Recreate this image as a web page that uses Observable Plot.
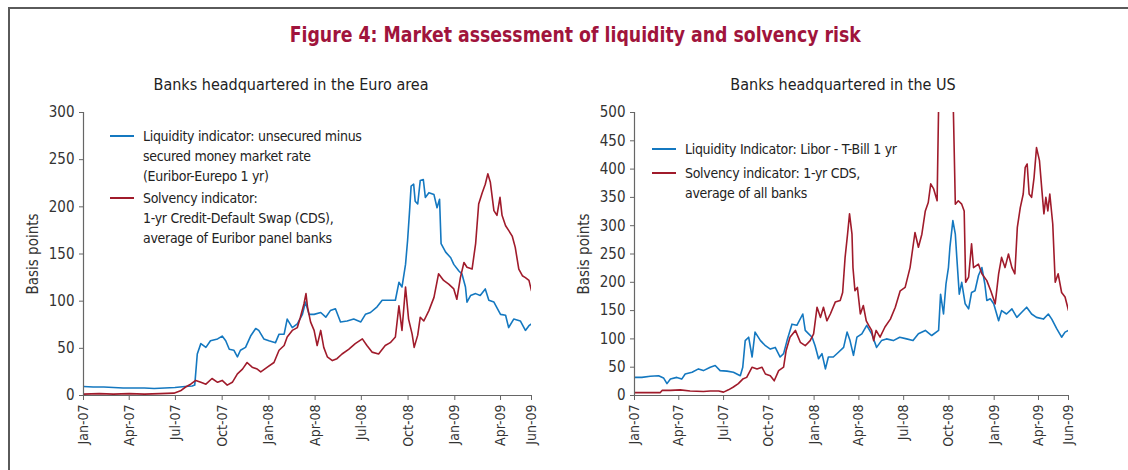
<!DOCTYPE html>
<html>
<head>
<meta charset="utf-8">
<script src="https://cdn.jsdelivr.net/npm/d3@7"></script>
<script src="https://cdn.jsdelivr.net/npm/@observablehq/plot@0.6"></script>
<style>
  html, body { margin: 0; padding: 0; background: #fff; overflow: hidden; }
  #page { position: relative; width: 1128px; height: 470px; overflow: hidden;
    font-family: "Liberation Sans Narrow", "DejaVu Sans Condensed", "Roboto Condensed", Roboto, sans-serif; color: #222; }
  #frame { position: absolute; left: 8px; top: 7px; width: 1300px; height: 700px; border: 2px solid #5a5a5a; }
  #title { position: absolute; left: 0; width: 1150px; top: 22px; text-align: center; font-size: 22px; font-weight: bold; color: #a0143c; transform: scaleX(0.875); transform-origin: 577px 0; }
  .sub { position: absolute; top: 75px; text-align: center; font-size: 16px; color: #222; }
  .chart { position: absolute; top: 100px; }
  .legend { position: absolute; font-size: 14px; line-height: 20px; color: #222; letter-spacing: -0.3px; }
  .legend .row { position: relative; padding-left: 33px; white-space: nowrap; }
  .legend .sw { position: absolute; left: 0; top: 9px; width: 24px; height: 2px; }
  svg text { font-family: "Liberation Sans Narrow", "DejaVu Sans Condensed", "Roboto Condensed", Roboto, sans-serif; }
</style>
</head>
<body>
<div id="page">
  <div id="frame"></div>
  <div id="title">Figure 4: Market assessment of liquidity and solvency risk</div>
  <div class="sub" style="left:141px;width:300px;">Banks headquartered in the Euro area</div>
  <div class="sub" style="left:693px;width:300px;">Banks headquartered in the US</div>
  <div id="left" class="chart" style="left:0px;"></div>
  <div id="right" class="chart" style="left:560px;"></div>
  <div class="legend" style="left:110px;top:126px;">
    <div class="row"><span class="sw" style="background:#1478c0"></span>Liquidity indicator: unsecured minus<br>secured money market rate<br>(Euribor-Eurepo 1 yr)</div>
    <div class="row" style="margin-top:2px"><span class="sw" style="background:#a01b2b"></span>Solvency indicator:<br>1-yr Credit-Default Swap (CDS),<br>average of Euribor panel banks</div>
  </div>
  <div class="legend" style="left:652px;top:139px;">
    <div class="row"><span class="sw" style="background:#1478c0"></span>Liquidity Indicator: Libor - T-Bill 1 yr</div>
    <div class="row" style="margin-top:4px"><span class="sw" style="background:#a01b2b"></span>Solvency indicator: 1-yr CDS,<br>average of all banks</div>
  </div>
</div>
<script>
// ---- data (basis points) ----
const xTickDates = ["2007-01-01","2007-04-01","2007-07-01","2007-10-01","2008-01-01","2008-04-01","2008-07-01","2008-10-01","2009-01-01","2009-04-01","2009-06-01"];
const xDomain = ["2007-01-01","2009-06-01"];
const euroYTicks = [0,50,100,150,200,250,300];
const usYTicks = [0,50,100,150,200,250,300,350,400,450,500];
const seriesNames = ["Liquidity", "Solvency"];
const seriesColors = ["#1478c0", "#a01b2b"];

// Euro area: liquidity indicator (Euribor-Eurepo 1 yr)
const euroLiquidity = [
 ["2007-01-01",9.5],["2007-01-20",9],["2007-02-10",9],["2007-03-01",8.5],["2007-03-20",8],["2007-04-10",8],
 ["2007-05-01",8],["2007-05-20",7.5],["2007-06-10",8],["2007-06-30",8.5],["2007-07-20",9.5],["2007-08-03",10],
 ["2007-08-08",11],["2007-08-13",44],["2007-08-20",55],["2007-08-30",51],["2007-09-08",58],["2007-09-22",60],
 ["2007-10-01",63],["2007-10-08",58],["2007-10-15",49],["2007-10-24",48],["2007-10-31",41],["2007-11-06",48],
 ["2007-11-16",51],["2007-11-26",63],["2007-12-06",71],["2007-12-12",69],["2007-12-22",60],["2008-01-01",58],
 ["2008-01-14",56],["2008-01-21",65],["2008-01-31",65],["2008-02-06",81],["2008-02-16",72],["2008-02-26",76],
 ["2008-03-07",86],["2008-03-13",99],["2008-03-20",86],["2008-03-30",86],["2008-04-12",88],["2008-04-22",83],
 ["2008-05-01",90],["2008-05-11",92],["2008-05-21",78],["2008-06-03",79],["2008-06-16",81],["2008-06-30",78],
 ["2008-07-09",86],["2008-07-19",88],["2008-08-01",94],["2008-08-11",101],["2008-08-21",101],["2008-09-06",101],
 ["2008-09-13",120],["2008-09-19",115],["2008-09-26",139],["2008-09-30",164],["2008-10-04",196],["2008-10-07",222],
 ["2008-10-12",224],["2008-10-15",206],["2008-10-20",203],["2008-10-25",228],["2008-10-31",229],["2008-11-04",210],
 ["2008-11-11",215],["2008-11-21",213],["2008-11-27",199],["2008-12-02",208],["2008-12-05",161],["2008-12-14",152],
 ["2008-12-24",146],["2008-12-30",139],["2009-01-09",132],["2009-01-15",129],["2009-01-22",115],["2009-01-25",99],
 ["2009-02-01",106],["2009-02-11",108],["2009-02-20",106],["2009-03-02",113],["2009-03-09",101],["2009-03-19",99],
 ["2009-04-01",86],["2009-04-11",85],["2009-04-17",72],["2009-04-27",81],["2009-05-10",79],["2009-05-20",69],
 ["2009-05-27",74],["2009-06-01",76]
];
// Euro area: solvency indicator (1-yr CDS, Euribor panel banks)
const euroSolvency = [
 ["2007-01-01",1.5],["2007-02-01",2],["2007-03-01",1.5],["2007-04-01",2],["2007-05-01",1.5],["2007-06-01",2],
 ["2007-06-28",2.5],["2007-07-11",5],["2007-07-21",9],["2007-07-31",12],["2007-08-10",16],["2007-08-20",14],
 ["2007-08-30",12],["2007-09-11",18],["2007-09-22",14],["2007-10-01",16],["2007-10-11",11],["2007-10-21",14],
 ["2007-10-31",23],["2007-11-10",28],["2007-11-19",35],["2007-11-29",30],["2007-12-09",28],["2007-12-16",25],
 ["2007-12-29",30],["2008-01-11",35],["2008-01-21",48],["2008-01-31",53],["2008-02-06",62],["2008-02-16",69],
 ["2008-02-26",72],["2008-03-03",83],["2008-03-10",97],["2008-03-14",108],["2008-03-17",94],["2008-03-23",78],
 ["2008-03-30",69],["2008-04-05",53],["2008-04-12",69],["2008-04-18",51],["2008-04-25",41],["2008-05-05",37],
 ["2008-05-14",39],["2008-05-24",44],["2008-06-06",49],["2008-06-19",55],["2008-07-03",60],["2008-07-12",53],
 ["2008-07-22",46],["2008-08-04",44],["2008-08-17",53],["2008-08-27",56],["2008-09-06",62],["2008-09-13",95],
 ["2008-09-19",69],["2008-09-26",115],["2008-10-02",81],["2008-10-09",65],["2008-10-13",51],["2008-10-20",64],
 ["2008-10-25",83],["2008-11-01",79],["2008-11-11",90],["2008-11-21",104],["2008-11-30",129],["2008-12-10",122],
 ["2008-12-20",118],["2008-12-30",113],["2009-01-05",102],["2009-01-12",125],["2009-01-19",141],["2009-01-25",136],
 ["2009-02-04",134],["2009-02-11",161],["2009-02-17",203],["2009-02-24",215],["2009-03-02",224],["2009-03-07",235],
 ["2009-03-12",226],["2009-03-19",196],["2009-03-25",191],["2009-03-31",210],["2009-04-04",191],["2009-04-11",180],
 ["2009-04-17",175],["2009-04-24",169],["2009-04-30",157],["2009-05-07",134],["2009-05-14",127],["2009-05-20",125],
 ["2009-05-27",122],["2009-06-01",111]
];
// US: liquidity indicator (Libor - T-Bill 1 yr)
const usLiquidity = [
 ["2007-01-01",32],["2007-01-16",32],["2007-02-02",34],["2007-02-19",35],["2007-03-01",31],["2007-03-08",21],
 ["2007-03-15",29],["2007-03-28",32],["2007-04-07",29],["2007-04-14",38],["2007-04-28",41],["2007-05-11",47],
 ["2007-05-21",44],["2007-06-04",50],["2007-06-14",53],["2007-06-24",44],["2007-07-08",43],["2007-07-21",41],
 ["2007-08-04",35],["2007-08-09",50],["2007-08-14",97],["2007-08-21",103],["2007-08-28",68],["2007-09-03",112],
 ["2007-09-14",97],["2007-09-24",88],["2007-10-04",82],["2007-10-14",85],["2007-10-24",68],["2007-10-31",74],
 ["2007-11-07",97],["2007-11-17",126],["2007-11-27",124],["2007-12-09",144],["2007-12-14",115],["2007-12-21",109],
 ["2007-12-28",103],["2008-01-03",88],["2008-01-10",65],["2008-01-17",74],["2008-01-24",47],["2008-01-30",68],
 ["2008-02-09",68],["2008-02-19",76],["2008-03-01",85],["2008-03-08",112],["2008-03-14",97],["2008-03-21",71],
 ["2008-03-28",103],["2008-04-07",109],["2008-04-17",124],["2008-04-27",109],["2008-05-07",85],["2008-05-17",97],
 ["2008-05-27",100],["2008-06-10",97],["2008-06-23",103],["2008-07-07",100],["2008-07-20",97],["2008-07-31",109],
 ["2008-08-14",115],["2008-08-27",106],["2008-09-10",115],["2008-09-14",179],["2008-09-20",144],["2008-09-25",197],
 ["2008-09-30",226],["2008-10-03",262],["2008-10-09",309],["2008-10-14",285],["2008-10-17",244],["2008-10-22",179],
 ["2008-10-27",200],["2008-11-03",162],["2008-11-10",153],["2008-11-16",182],["2008-11-23",185],["2008-11-30",212],
 ["2008-12-07",226],["2008-12-13",197],["2008-12-17",168],["2008-12-24",171],["2008-12-31",162],["2009-01-10",132],
 ["2009-01-16",150],["2009-01-26",144],["2009-02-06",153],["2009-02-16",138],["2009-02-26",147],["2009-03-08",156],
 ["2009-03-18",144],["2009-03-28",138],["2009-04-11",135],["2009-04-21",144],["2009-04-28",135],["2009-05-08",118],
 ["2009-05-18",103],["2009-05-25",112],["2009-06-01",115]
];
// US: solvency indicator (1-yr CDS, average of all banks)
const usSolvency = [
 ["2007-01-01",5],["2007-02-22",5],["2007-02-26",9],["2007-03-15",9],["2007-04-04",10],["2007-04-24",8],
 ["2007-05-21",7],["2007-06-04",8],["2007-06-21",8],["2007-07-01",6],["2007-07-11",10],["2007-07-21",15],
 ["2007-07-31",21],["2007-08-09",29],["2007-08-17",32],["2007-08-28",50],["2007-09-07",47],["2007-09-17",50],
 ["2007-09-24",38],["2007-10-04",35],["2007-10-12",26],["2007-10-21",44],["2007-10-31",50],["2007-11-05",79],
 ["2007-11-13",103],["2007-11-24",115],["2007-12-04",94],["2007-12-14",88],["2007-12-24",97],["2007-12-31",109],
 ["2008-01-07",156],["2008-01-14",138],["2008-01-20",156],["2008-01-27",132],["2008-02-03",144],["2008-02-13",165],
 ["2008-02-23",168],["2008-02-28",182],["2008-03-04",244],["2008-03-09",285],["2008-03-13",321],["2008-03-18",285],
 ["2008-03-20",226],["2008-03-24",185],["2008-03-29",191],["2008-04-04",144],["2008-04-10",159],["2008-04-16",132],
 ["2008-04-21",124],["2008-04-27",115],["2008-05-01",97],["2008-05-06",115],["2008-05-14",103],["2008-05-24",121],
 ["2008-06-04",135],["2008-06-14",156],["2008-06-24",185],["2008-07-04",191],["2008-07-14",226],["2008-07-24",288],
 ["2008-07-31",262],["2008-08-07",285],["2008-08-14",326],["2008-08-20",341],["2008-08-25",374],["2008-08-31",365],
 ["2008-09-07",344],["2008-09-10",510],["2008-09-20",620],["2008-10-03",600],["2008-10-10",505],["2008-10-14",338],
 ["2008-10-20",344],["2008-10-27",338],["2008-11-01",326],["2008-11-04",200],["2008-11-10",209],["2008-11-16",268],
 ["2008-11-20",226],["2008-11-30",232],["2008-12-07",215],["2008-12-17",203],["2008-12-25",185],["2009-01-03",162],
 ["2009-01-10",215],["2009-01-16",244],["2009-01-23",226],["2009-01-30",250],["2009-02-06",226],["2009-02-12",215],
 ["2009-02-17",297],["2009-02-23",332],["2009-03-01",356],["2009-03-05",403],["2009-03-09",409],["2009-03-13",356],
 ["2009-03-18",350],["2009-03-23",385],["2009-03-28",438],["2009-04-03",415],["2009-04-08",362],["2009-04-12",321],
 ["2009-04-16",350],["2009-04-20",326],["2009-04-24",356],["2009-04-30",303],["2009-05-05",200],["2009-05-11",215],
 ["2009-05-18",182],["2009-05-25",174],["2009-06-01",150]
];

const toRows = (pairs, name) => pairs.map(([d, v]) => ({date: new Date(d), value: v, series: name}));
const xTicks = xTickDates.map(d => new Date(d));
const fmt = d3.utcFormat("%b-%y");
const font = '"Liberation Sans Narrow", "DejaVu Sans Condensed", "Roboto Condensed", Roboto, sans-serif';

function panel({width, marginLeft, marginRight, yTicks, liq, sol}) {
  const data = [...toRows(liq, seriesNames[0]), ...toRows(sol, seriesNames[1])];
  return Plot.plot({
    width, height: 370,
    marginLeft, marginRight, marginTop: 12, marginBottom: 75,
    style: {fontFamily: font, fontSize: "14px", color: "#333", background: "transparent", overflow: "visible"},
    x: {type: "utc", domain: xDomain.map(d => new Date(d))},
    y: {domain: [yTicks[0], yTicks[yTicks.length - 1]]},
    color: {domain: seriesNames, range: seriesColors},
    marks: [
      Plot.axisX({ticks: xTicks, tickFormat: fmt, tickRotate: -90, tickSize: 5, tickPadding: 4, label: null, stroke: "#666", fontSize: 14}),
      Plot.axisY({ticks: yTicks, tickSize: 4, tickPadding: 5, label: "Basis points", labelAnchor: "center", labelArrow: "none", labelOffset: 56, stroke: "#666", fontSize: 15}),
      Plot.line(data, {x: "date", y: "value", z: "series", stroke: "series", strokeWidth: 1.6, clip: true}),
      Plot.ruleX([xDomain[0]].map(d => new Date(d)), {stroke: "#666", strokeWidth: 1.2}),
      Plot.ruleY([0], {stroke: "#666", strokeWidth: 1.2})
    ]
  });
}

document.getElementById("left").append(panel({width: 560, marginLeft: 83, marginRight: 29, yTicks: euroYTicks, liq: euroLiquidity, sol: euroSolvency}));
document.getElementById("right").append(panel({width: 568, marginLeft: 74, marginRight: 60, yTicks: usYTicks, liq: usLiquidity, sol: usSolvency}));
</script>
</body>
</html>
